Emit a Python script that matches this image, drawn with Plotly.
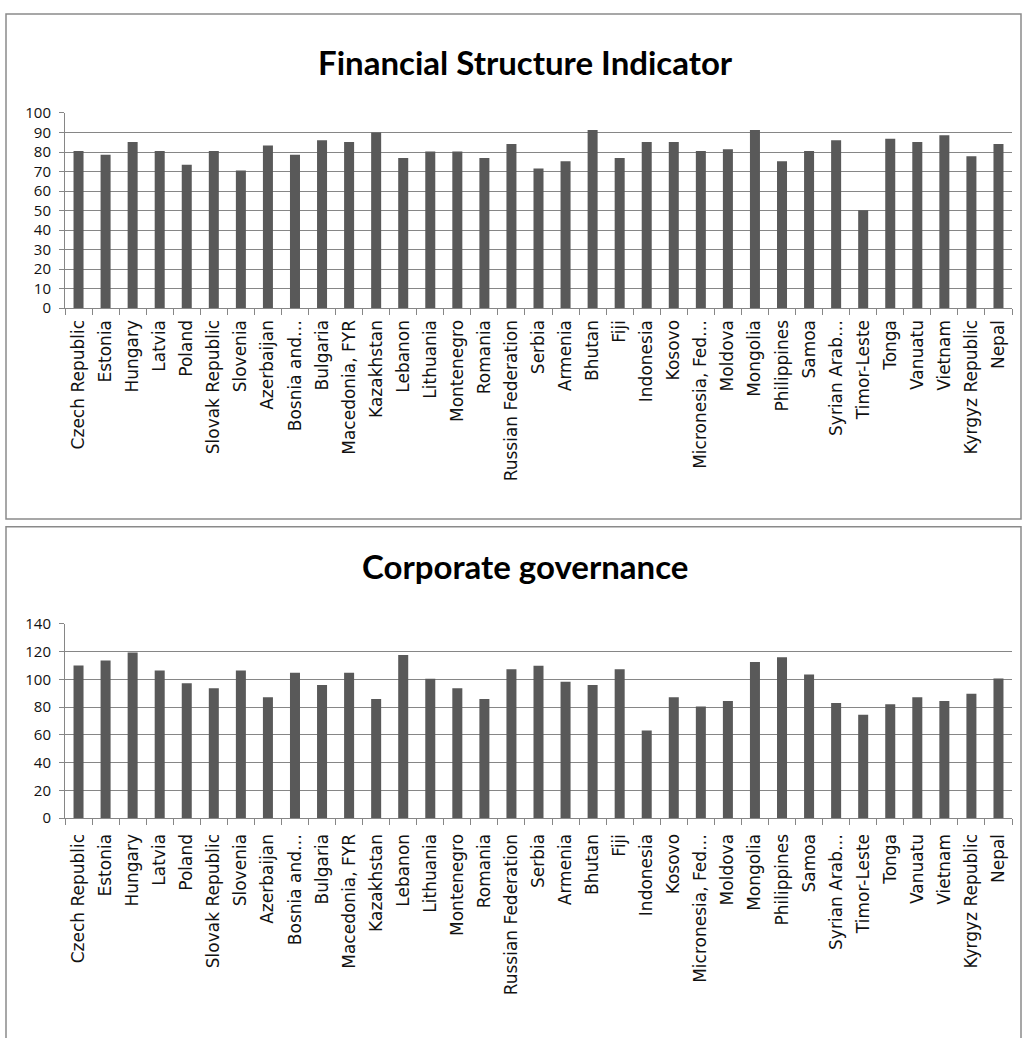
import plotly.graph_objects as go

countries = [
    "Czech Republic", "Estonia", "Hungary", "Latvia", "Poland", "Slovak Republic",
    "Slovenia", "Azerbaijan", "Bosnia and…", "Bulgaria", "Macedonia, FYR",
    "Kazakhstan", "Lebanon", "Lithuania", "Montenegro", "Romania",
    "Russian Federation", "Serbia", "Armenia", "Bhutan", "Fiji", "Indonesia",
    "Kosovo", "Micronesia, Fed…", "Moldova", "Mongolia", "Philippines", "Samoa",
    "Syrian Arab…", "Timor-Leste", "Tonga", "Vanuatu", "Vietnam",
    "Kyrgyz Republic", "Nepal",
]

financial_structure = [
    80.5, 78.6, 85.1, 80.5, 73.5, 80.5, 70.5, 83.3, 78.6, 86.0, 85.1, 90.0,
    77.0, 80.3, 80.3, 77.0, 84.1, 71.6, 75.3, 91.3, 77.0, 85.1, 85.1, 80.5,
    81.4, 91.3, 75.3, 80.5, 86.0, 50.2, 86.8, 85.1, 88.6, 77.8, 84.1,
]

corporate_governance = [
    110.1, 113.6, 119.5, 106.4, 97.2, 93.6, 106.4, 87.1, 104.9, 96.0, 104.9,
    85.9, 117.6, 100.5, 93.6, 85.9, 107.3, 109.9, 98.4, 96.0, 107.3, 63.1,
    87.1, 80.5, 84.5, 112.5, 116.0, 103.5, 83.1, 74.6, 82.1, 87.1, 84.5,
    89.6, 100.7,
]

titles = ["Financial Structure Indicator", "Corporate governance"]
y_ticks_top = [0, 10, 20, 30, 40, 50, 60, 70, 80, 90, 100]
y_ticks_bottom = [0, 20, 40, 60, 80, 100, 120, 140]

W, H = 1024, 1038
BAR = "#595959"
GRID = "#868686"


def py(px):
    return 1 - px / H


def pxx(px):
    return px / W


fig = go.Figure()
fig.add_trace(go.Bar(x=countries, y=financial_structure, marker_color=BAR,
                     marker_line_width=0, xaxis="x", yaxis="y"))
fig.add_trace(go.Bar(x=countries, y=corporate_governance, marker_color=BAR,
                     marker_line_width=0, xaxis="x2", yaxis="y2"))

xcommon = dict(
    type="category", showgrid=False, showline=True, linecolor=GRID, linewidth=1,
    ticks="outside", tickson="boundaries", ticklen=6, tickcolor=GRID,
    tickangle=-90, tickfont=dict(family="DejaVu Sans", size=17, color="#111"),
    domain=[pxx(65), pxx(1012)], fixedrange=True,
)
ycommon = dict(
    showgrid=True, gridcolor=GRID, gridwidth=1, showline=True, linecolor=GRID,
    linewidth=1, ticks="outside", ticklen=5, tickcolor=GRID, zeroline=False,
    tickfont=dict(family="Open Sans", size=15, color="#111"),
    ticklabelstandoff=5, fixedrange=True,
)

fig.update_layout(
    width=W, height=H, margin=dict(l=0, r=0, t=0, b=0),
    paper_bgcolor="white", plot_bgcolor="white", showlegend=False,
    bargap=0.63,
    xaxis=dict(**xcommon, anchor="y", ticklabelstandoff=4),
    yaxis=dict(**ycommon, anchor="x", range=[0, 100], tickvals=y_ticks_top,
               domain=[py(303), py(104)]),
    xaxis2=dict(**xcommon, anchor="y2", ticklabelstandoff=8),
    yaxis2=dict(**ycommon, anchor="x2", range=[0, 140], tickvals=y_ticks_bottom,
                domain=[py(823), py(625)]),
    shapes=[
        dict(type="rect", xref="paper", yref="paper", x0=pxx(6), x1=pxx(1021),
             y0=py(518), y1=py(3), line=dict(color="#8a8a8a", width=1.5)),
        dict(type="rect", xref="paper", yref="paper", x0=pxx(6), x1=pxx(1021),
             y0=py(1060), y1=py(526), line=dict(color="#8a8a8a", width=1.5)),
    ],
    annotations=[
        dict(text="<b>%s</b>" % titles[0], xref="paper", yref="paper",
             x=pxx(525), y=py(52), showarrow=False, xanchor="center",
             yanchor="middle", font=dict(family="Lato", size=33, color="#000")),
        dict(text="<b>%s</b>" % titles[1], xref="paper", yref="paper",
             x=pxx(525), y=py(566), showarrow=False, xanchor="center",
             yanchor="middle", font=dict(family="Lato", size=33, color="#000")),
    ],
)

fig.write_html("out.html")
